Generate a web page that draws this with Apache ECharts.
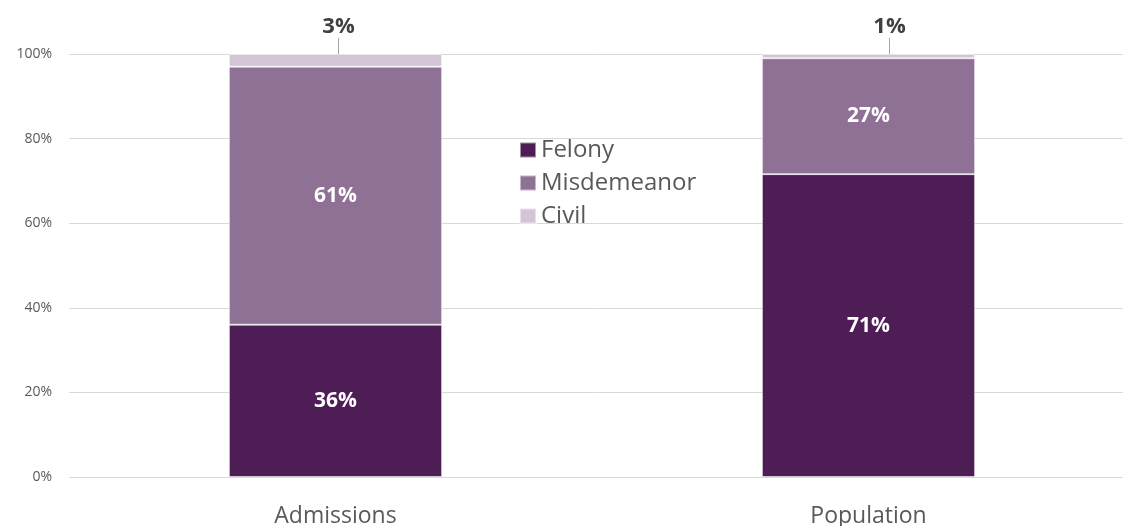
<!DOCTYPE html>
<html>
<head>
<meta charset="utf-8">
<script src="https://cdn.jsdelivr.net/npm/echarts@6/dist/echarts.min.js"></script>
<style>
  html, body { margin: 0; padding: 0; background: #fff; }
  #chart { width: 1123px; height: 526px; }
</style>
</head>
<body>
<div id="chart"></div>
<script>
// 数据
const categories = ['Admissions', 'Population'];
const felony = [36, 71.6];
const misdemeanor = [61, 27.4];
const civil = [3, 1];
const felonyLabels = ['36%', '71%'];
const misdemeanorLabels = ['61%', '27%'];
const civilLabels = ['3%', '1%'];
const yTicks = [0, 20, 40, 60, 80, 100];

(function () {
    let myChart = echarts.init(document.getElementById('chart'));
    const font = '"Open Sans", "Noto Sans", sans-serif';
    const innerLabel = function (labels) {
        return {
            show: true,
            position: 'inside',
            color: '#fff',
            fontSize: 21,
            fontWeight: 'bold',
            fontFamily: font,
            formatter: p => labels[p.dataIndex]
        };
    };
    let option = {
        animation: false,
        color: ['#4e1d56', '#8e7195', '#d3c4d6'],
        grid: {
            left: 69,
            width: 1066,
            top: 54,
            bottom: 49,
            outerBoundsMode: 'none'
        },
        legend: {
            orient: 'vertical',
            left: 514,
            top: 133,
            itemWidth: 16,
            itemHeight: 15,
            itemGap: 9,
            icon: 'rect',
            textStyle: {
                color: '#595959',
                fontSize: 24,
                fontFamily: font
            },
            data: ['Felony', 'Misdemeanor', 'Civil']
        },
        xAxis: {
            type: 'category',
            data: categories,
            axisTick: { show: false },
            axisLine: { show: false },
            axisLabel: {
                color: '#595959',
                fontSize: 23,
                fontFamily: font,
                margin: 28
            }
        },
        yAxis: {
            type: 'value',
            min: 0,
            max: 100,
            interval: 20,
            axisLabel: {
                color: '#595959',
                fontSize: 14,
                fontFamily: font,
                margin: 17,
                formatter: v => yTicks.includes(v) ? v + '%' : ''
            },
            axisLine: { show: false },
            axisTick: { show: false },
            splitLine: {
                lineStyle: { color: '#d9d9d9', width: 1 }
            }
        },
        series: [{
            name: 'Felony',
            type: 'bar',
            stack: 'total',
            barWidth: '40%',
            data: felony,
            itemStyle: { borderColor: 'rgba(255,255,255,0.5)', borderWidth: 1 },
            label: innerLabel(felonyLabels)
        }, {
            name: 'Misdemeanor',
            type: 'bar',
            stack: 'total',
            data: misdemeanor,
            itemStyle: { borderColor: 'rgba(255,255,255,0.5)', borderWidth: 1 },
            label: innerLabel(misdemeanorLabels)
        }, {
            name: 'Civil',
            type: 'bar',
            stack: 'total',
            data: civil,
            itemStyle: { borderColor: 'rgba(255,255,255,0.5)', borderWidth: 1 },
            label: {
                show: true,
                position: 'top',
                distance: 0,
                color: '#404040',
                fontSize: 22,
                fontWeight: 'bold',
                fontFamily: font,
                formatter: p => civilLabels[p.dataIndex]
            },
            labelLayout: function (params) {
                const dx = params.dataIndex === 0 ? 3 : 21;
                return { dx: dx, dy: -16 };
            },
            labelLine: {
                show: true,
                length2: 0,
                lineStyle: { color: '#a6a6a6', width: 1 }
            }
        }]
    };
    myChart.setOption(option);
    window.addEventListener('resize', function () {
        myChart.resize();
    });
})();
</script>
</body>
</html>
